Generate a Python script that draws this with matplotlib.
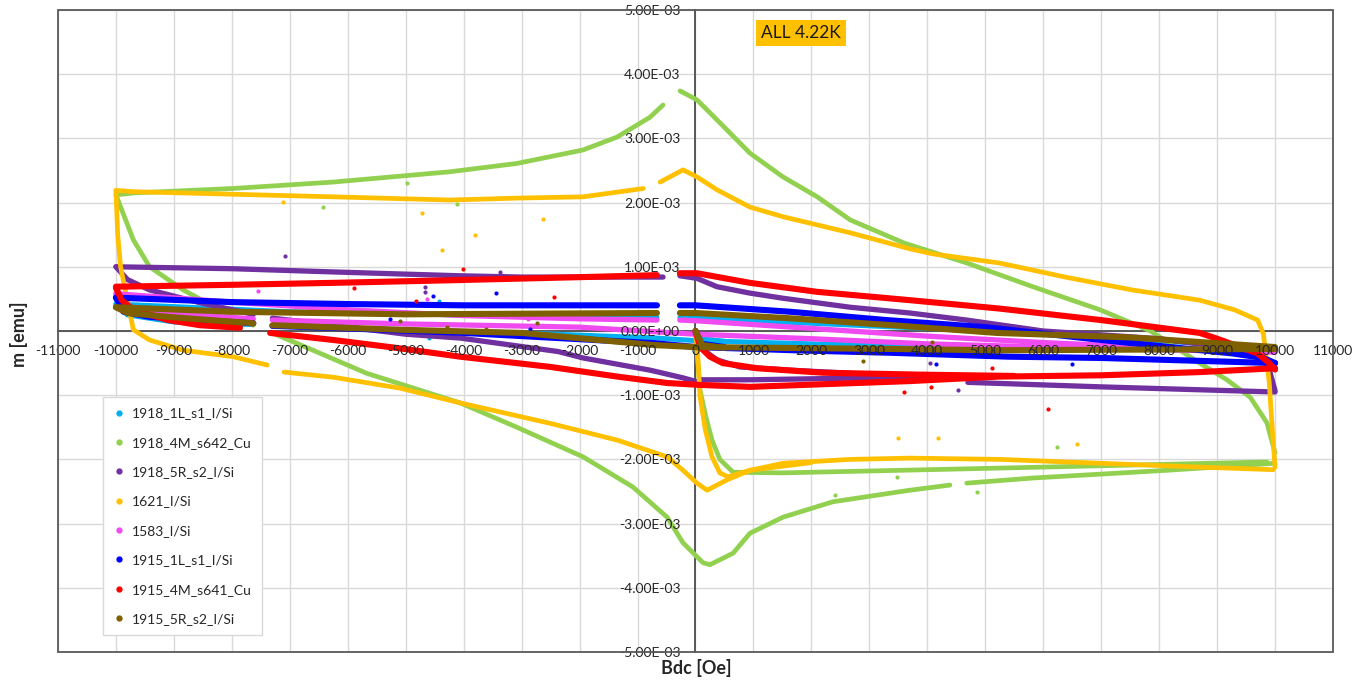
import numpy as np
import matplotlib
matplotlib.use("Agg")
import matplotlib.pyplot as plt
from matplotlib.lines import Line2D
from matplotlib.patches import Rectangle
from matplotlib.ticker import FuncFormatter

plt.rcParams['font.family'] = ['Lato', 'DejaVu Sans']

nan = np.nan
SCALE = 1e-3  # values below are in units of 1e-3 emu

# ---------------- data (B in Oe, m in 1e-3 emu) ----------------
labels = ["1918_1L_s1_I/Si", "1918_4M_s642_Cu", "1918_5R_s2_I/Si", "1621_I/Si",
          "1583_I/Si", "1915_1L_s1_I/Si", "1915_4M_s641_Cu", "1915_5R_s2_I/Si"]
colors = ["#00B0F0", "#92D050", "#7030A0", "#FFC000",
          "#F04BF0", "#0000FF", "#FF0000", "#7F6000"]

# 1918_1L_s1_I/Si (cyan)
c_down_B = [10000, 8000, 6000, 4000, 2000, 0, -270, nan, -665, -4000, -7000, -10000]
c_down_m = [-0.28, -0.15, -0.05, 0.04, 0.12, 0.20, 0.21, nan, 0.21, 0.25, 0.30, 0.42]
c_up_B = [-10000, -9800, -9000, -7630, nan, -7300, -5270, -3000, -665, 0, 2000, 4000, 6000, 8000, 10000]
c_up_m = [0.42, 0.25, 0.14, 0.10, nan, 0.08, 0.02, -0.03, -0.11, -0.15, -0.20, -0.24, -0.27, -0.29, -0.30]
c_vir_B = [0, 100, 500]
c_vir_m = [0, -0.12, -0.16]
c_out_B = [-4420, -4600]
c_out_m = [0.47, -0.11]

# 1918_4M_s642_Cu (green)
g_down_B = [10000, 9860, 9570, 9170, 8700, 7850, 6980, 5820, 4680, 3600, 2670, 2100, 1510, 940, 370, 26, -267,
            nan, -560, -785, -1355, -1940, -3080, -4240, -6250, -7980, -9700, -10000]
g_down_m = [-1.90, -1.43, -1.03, -0.76, -0.50, 0.0, 0.33, 0.69, 1.06, 1.37, 1.73, 2.09, 2.40, 2.77, 3.29, 3.60, 3.74,
            nan, 3.52, 3.33, 3.02, 2.82, 2.61, 2.48, 2.32, 2.22, 2.15, 2.12]
g_up_B = [-10000, -9700, -9420, -8840, -7980, -7630, nan, -7300, -6600, -5670, -4060, -3080, -1940, -1080, -490,
          -215, 130, 250, 650, 940, 1510, 2370, 3700, 4390, nan, 4680, 5820, 8130, 10000]
g_up_m = [2.12, 1.42, 1.00, 0.64, 0.22, 0.09, nan, -0.03, -0.30, -0.66, -1.12, -1.50, -1.96, -2.43, -2.90,
          -3.30, -3.61, -3.64, -3.46, -3.15, -2.90, -2.66, -2.48, -2.40, nan, -2.37, -2.29, -2.17, -2.06]
g_vir_B = [0, 78, 180, 285, 420, 650, 1500, 3530, 6000, 9860]
g_vir_m = [0, -0.92, -1.34, -1.70, -2.00, -2.20, -2.21, -2.17, -2.12, -2.04]
g_out_B = [-6420, -4980, -4120, 6240, 4860, 2410, 3470]
g_out_m = [1.93, 2.30, 1.98, -1.81, -2.50, -2.55, -2.27]

# 1918_5R_s2_I/Si (purple)
p_down_B = [10000, 9900, 9750, 9000, 8000, 6000, 4680, 3700, 2670, 1510, 940, 370, 26, -270,
            nan, -560, -3000, -4060, -6250, -7980, -10000]
p_down_m = [-0.93, -0.60, -0.35, -0.24, -0.12, 0.0, 0.17, 0.28, 0.37, 0.51, 0.59, 0.69, 0.82, 0.86,
            nan, 0.84, 0.84, 0.86, 0.92, 0.97, 1.00]
p_up_B = [-10000, -9800, -9420, -8550, -7630, nan, -7300, -6250, -5000, -4060, -2370, -1940, -785, -215, 26, 90,
          940, 3700, 4450, nan, 4700, 6990, 10000]
p_up_m = [1.00, 0.80, 0.64, 0.44, 0.26, nan, 0.20, 0.09, -0.05, -0.11, -0.32, -0.42, -0.61, -0.73, -0.79, -0.76,
          -0.76, -0.72, -0.73, nan, -0.80, -0.87, -0.95]
p_vir_B = [0, 70, 370, 770, 1630, 2500, 3700]
p_vir_m = [0, -0.25, -0.45, -0.56, -0.61, -0.65, -0.72]
p_out_B = [-7080, -4670, -4670, -3370, 4050, 4530]
p_out_m = [1.17, 0.69, 0.61, 0.92, -0.50, -0.92]

# 1621_I/Si (orange)
o_down_B = [10000, 9950, 9900, 9800, 9700, 9300, 8700, 7530, 6380, 5240, 4100, 3700, 2670, 1510, 940, 370, 26,
            -215, -610, nan, -900, -1940, -3080, -4240, -6250, -7980, -9700, -10000]
o_down_m = [-2.12, -1.50, -0.80, -0.05, 0.17, 0.33, 0.48, 0.64, 0.84, 1.06, 1.20, 1.28, 1.53, 1.78, 1.93, 2.20,
            2.40, 2.51, 2.32, nan, 2.22, 2.09, 2.07, 2.04, 2.09, 2.13, 2.17, 2.19]
o_up_B = [-10000, -9970, -9920, -9840, -9700, -9420, -8840, -7980, -7390, nan, -7100, -6250, -5100, -4060, -2500,
          -1350, -490, -215, 26, 200, 540, 940, 1510, 2670, 3700, 5260, 6980, 8700, 9970]
o_up_m = [2.19, 1.50, 1.00, 0.64, 0.02, -0.14, -0.30, -0.40, -0.53, nan, -0.64, -0.72, -0.89, -1.12, -1.44,
          -1.70, -1.96, -2.17, -2.37, -2.48, -2.32, -2.17, -2.06, -2.00, -1.98, -2.00, -2.06, -2.12, -2.16]
o_vir_B = [0, 40, 80, 170, 285, 420, 560, 940, 2000]
o_vir_m = [0, -0.40, -1.03, -1.54, -1.96, -2.21, -2.27, -2.17, -2.05]
o_out_B = [-7120, -4720, -4380, -3800, -2630, 4190, 6590, 3500]
o_out_m = [2.01, 1.84, 1.26, 1.50, 1.74, -1.67, -1.76, -1.67]

# 1583_I/Si (pink)
k_down_B = [10000, 8000, 6000, 4000, 2000, 0, -270, nan, -665, -2000, -4000, -6000, -8000, -10000]
k_down_m = [-0.32, -0.26, -0.18, -0.08, 0.04, 0.16, 0.17, nan, 0.17, 0.19, 0.24, 0.33, 0.45, 0.58]
k_up_B = [-10000, -9800, -9000, -7630, nan, -7300, -5000, -2000, 0, 2000, 4000, 6000, 8000, 10000]
k_up_m = [0.58, 0.38, 0.27, 0.19, nan, 0.17, 0.11, 0.06, -0.05, -0.12, -0.20, -0.25, -0.29, -0.33]
k_out_B = [-7550, -4640, -2890]
k_out_m = [0.62, 0.50, 0.19]

# 1915_1L_s1_I/Si (blue)
b_down_B = [10000, 9800, 9270, 7000, 5000, 3300, 1630, 0, -270, nan, -665, -4000, -6000, -8000, -10000]
b_down_m = [-0.50, -0.42, -0.35, -0.14, 0.06, 0.17, 0.30, 0.40, 0.40, nan, 0.40, 0.40, 0.42, 0.45, 0.52]
b_up_B = [-10000, -9870, -9420, -8550, -7630, nan, -7300, -6000, -4000, -2370, -700, 0, 1700, 3400, 5400, 7000, 10000]
b_up_m = [0.52, 0.30, 0.22, 0.17, 0.12, nan, 0.08, 0.04, -0.03, -0.11, -0.19, -0.25, -0.30, -0.34, -0.40, -0.42, -0.50]
b_vir_B = [0, 100, 500]
b_vir_m = [0, -0.20, -0.25]
b_out_B = [-4530, -5270, -3440, -2850, 4150, 6500]
b_out_m = [0.55, 0.19, 0.59, 0.03, -0.51, -0.51]

# 1915_4M_s641_Cu (red)
r_down_B = [10000, 9900, 9700, 9000, 8700, 7000, 5240, 3700, 2100, 940, 26, -270, nan, -665, -1940, -4240, -6250,
            -7980, -10000]
r_down_m = [-0.60, -0.50, -0.35, -0.12, -0.03, 0.17, 0.35, 0.48, 0.61, 0.75, 0.90, 0.90, nan, 0.87, 0.84, 0.79, 0.75,
            0.72, 0.69]
r_up_B = [-10000, -9900, -9700, -9100, -8550, -7860, nan, -7340, -6250, -5100, -4060, -2500, -1350, -490, 80, 940,
          3700, 5240, 7000, 8700, 10000]
r_up_m = [0.67, 0.48, 0.33, 0.17, 0.09, 0.05, nan, -0.03, -0.14, -0.27, -0.40, -0.56, -0.71, -0.81, -0.84, -0.87,
          -0.78, -0.71, -0.69, -0.64, -0.58]
r_vir_B = [0, 80, 250, 470, 1060, 2200, 3900, 5500]
r_vir_m = [0, -0.25, -0.40, -0.50, -0.58, -0.65, -0.68, -0.70]
r_out_B = [-5890, -4820, -4010, -2440, 3600, 4060, 6090, 5120]
r_out_m = [0.67, 0.47, 0.97, 0.53, -0.95, -0.87, -1.21, -0.58]

# 1915_5R_s2_I/Si (brown)
n_down_B = [10000, 9500, 7500, 5200, 3400, 1600, 0, -270, nan, -665, -5000, -8000, -10000]
n_down_m = [-0.25, -0.22, -0.10, -0.03, 0.09, 0.20, 0.28, 0.28, nan, 0.28, 0.26, 0.30, 0.37]
n_up_B = [-10000, -9800, -9100, -7630, nan, -7300, -5100, -3000, -700, 0, 3400, 5200, 10000]
n_up_m = [0.37, 0.28, 0.22, 0.12, nan, 0.09, 0.02, -0.03, -0.22, -0.25, -0.28, -0.30, -0.28]
n_vir_B = [0, 120, 500]
n_vir_m = [0, -0.22, -0.26]
n_out_B = [-5100, -4290, -3620, -2740, 4080, 2890]
n_out_m = [0.16, 0.06, 0.03, 0.13, -0.17, -0.47]

x_ticks = list(range(-11000, 11001, 1000))
y_ticks = [v * 1e-3 for v in range(-5, 6)]

series = [
    (c_down_B, c_down_m, c_up_B, c_up_m, c_vir_B, c_vir_m, c_out_B, c_out_m),
    (g_down_B, g_down_m, g_up_B, g_up_m, g_vir_B, g_vir_m, g_out_B, g_out_m),
    (p_down_B, p_down_m, p_up_B, p_up_m, p_vir_B, p_vir_m, p_out_B, p_out_m),
    (o_down_B, o_down_m, o_up_B, o_up_m, o_vir_B, o_vir_m, o_out_B, o_out_m),
    (k_down_B, k_down_m, k_up_B, k_up_m, [], [], k_out_B, k_out_m),
    (b_down_B, b_down_m, b_up_B, b_up_m, b_vir_B, b_vir_m, b_out_B, b_out_m),
    (r_down_B, r_down_m, r_up_B, r_up_m, r_vir_B, r_vir_m, r_out_B, r_out_m),
    (n_down_B, n_down_m, n_up_B, n_up_m, n_vir_B, n_vir_m, n_out_B, n_out_m),
]
widths = [3.6, 3.4, 3.8, 3.4, 3.8, 4.4, 4.4, 4.4]

# ---------------- figure ----------------
fig = plt.figure(figsize=(13.55, 6.83), dpi=100)
ax = fig.add_axes([58 / 1355, 1 - 652 / 683, 1275 / 1355, 642 / 683])
ax.set_xlim(-11000, 11000)
ax.set_ylim(-5e-3, 5e-3)
ax.set_xticks(x_ticks)
ax.set_yticks(y_ticks)
ax.yaxis.set_major_formatter(FuncFormatter(lambda v, p: f"{v:.2E}"))
ax.xaxis.set_major_formatter(FuncFormatter(lambda v, p: f"{int(round(v))}"))

# gridlines below the data, axis labels above it
for xv in x_ticks:
    ax.axvline(xv, color="#D9D9D9", lw=1.0, zorder=0.5)
for yv in y_ticks:
    ax.axhline(yv, color="#D9D9D9", lw=1.0, zorder=0.5)
ax.set_axisbelow(False)

for sp in ("top", "right"):
    ax.spines[sp].set_visible(False)
ax.spines["left"].set_position(("data", 0))
ax.spines["bottom"].set_position(("data", 0))
for sp in ("left", "bottom"):
    ax.spines[sp].set_color("#404040")
    ax.spines[sp].set_linewidth(1.2)
    ax.spines[sp].set_zorder(1.5)
ax.add_patch(Rectangle((0, 0), 1, 1, transform=ax.transAxes, fill=False,
                       ec="#595959", lw=1.3, clip_on=False, zorder=3))

ax.tick_params(axis="x", length=0, pad=10, labelsize=10, labelcolor="#262626")
ax.tick_params(axis="y", length=0, pad=11, labelsize=10, labelcolor="#262626")

for (dB, dm, uB, um, vB, vm, oB, om), col, lw in zip(series, colors, widths):
    kw = dict(color=col, lw=lw, solid_capstyle="round", solid_joinstyle="round", zorder=2)
    ax.plot(np.array(dB, float), np.array(dm, float) * SCALE, **kw)
    ax.plot(np.array(uB, float), np.array(um, float) * SCALE, **kw)
    if len(vB):
        ax.plot(np.array(vB, float), np.array(vm, float) * SCALE, **kw)
    ax.scatter(np.array(oB, float), np.array(om, float) * SCALE, s=9, color=col, zorder=2, lw=0)

ax.text(1820, 4.64e-3, "ALL 4.22K", ha="center", va="center", fontsize=12.5, color="#1a1a1a",
        bbox=dict(boxstyle="square,pad=0.3", fc="#FFC000", ec="none"), zorder=5)

fig.text(19 / 1355, 1 - 334 / 683, "m [emu]", rotation=90, ha="center", va="center",
         fontsize=13, fontweight="bold", color="#262626")
fig.text(696 / 1355, 1 - 668 / 683, "Bdc [Oe]", ha="center", va="center",
         fontsize=13, fontweight="bold", color="#262626")

handles = [Line2D([], [], ls="none", marker="o", ms=3.5, color=c) for c in colors]
leg = ax.legend(handles, labels, loc="upper left", bbox_to_anchor=((103 - 58) / 1275, (652 - 397) / 642),
                borderaxespad=0, fontsize=10, frameon=True, fancybox=False, framealpha=1,
                edgecolor="#D9D9D9", labelspacing=1.25, handlelength=0.8, handletextpad=0.5,
                borderpad=0.75)
leg.get_frame().set_linewidth(1.0)
for t in leg.get_texts():
    t.set_color("#262626")
leg.set_zorder(6)

fig.savefig("out.png", dpi=100)
